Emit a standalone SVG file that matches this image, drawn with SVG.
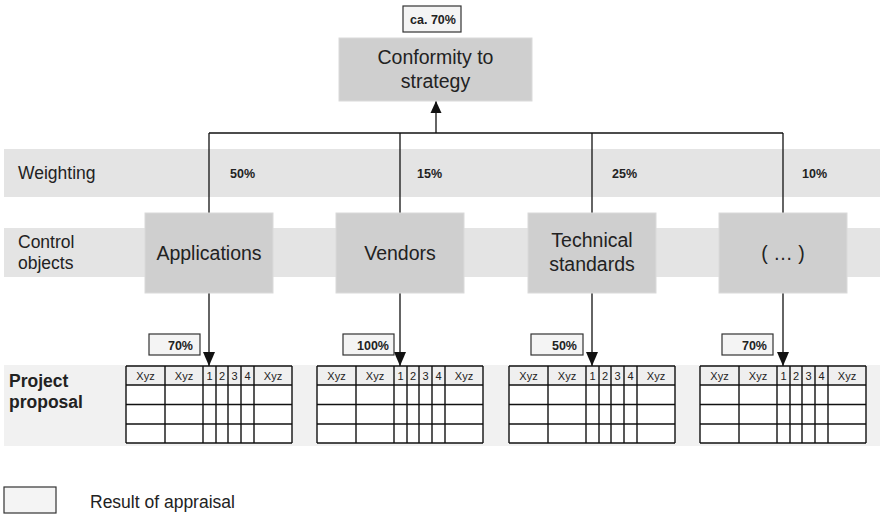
<svg xmlns="http://www.w3.org/2000/svg" width="880" height="516" viewBox="0 0 880 516">
<style>
text{font-family:"Liberation Sans",Arial,sans-serif;fill:#222}
.band{fill:#e4e4e4}
.pband{fill:#f1f1f1}
.node{fill:#cfcfcf;stroke:#dadada;stroke-width:1}
.nt{font-size:19.5px;text-anchor:middle}
.lbl{font-size:17.5px}
.pct{font-size:12.5px;font-weight:bold}
.rbox{fill:#f4f4f4;stroke:#333;stroke-width:1.2}
.conn{stroke:#111;stroke-width:1.3;fill:none}
.tb line{stroke:#111;stroke-width:1.4}
.hd{fill:#efefef}
.cell{fill:#fff}
.th{font-size:11px;text-anchor:middle}
</style>
<defs>
<marker id="ah" markerWidth="14" markerHeight="12" viewBox="0 0 14 12" refX="14" refY="6" orient="auto" markerUnits="userSpaceOnUse">
<path d="M0,0 L14,6 L0,12 Z" fill="#111"/>
</marker>
<marker id="ah2" markerWidth="12" markerHeight="12" viewBox="0 0 12 12" refX="12" refY="6" orient="auto" markerUnits="userSpaceOnUse">
<path d="M0,0.5 L12,6 L0,11.5 Z" fill="#111"/>
</marker>
<g id="table">
<rect class="cell" x="0" y="0" width="166" height="77"/>
<rect class="hd" x="0" y="0" width="166" height="19"/>
<g class="tb">
<line x1="0" y1="0" x2="166" y2="0"/>
<line x1="0" y1="19" x2="166" y2="19"/>
<line x1="0" y1="38.5" x2="166" y2="38.5"/>
<line x1="0" y1="58" x2="166" y2="58"/>
<line x1="0" y1="77" x2="166" y2="77"/>
<line x1="0" y1="0" x2="0" y2="77"/>
<line x1="39" y1="0" x2="39" y2="77"/>
<line x1="77" y1="0" x2="77" y2="77"/>
<line x1="90" y1="0" x2="90" y2="77"/>
<line x1="102" y1="0" x2="102" y2="77"/>
<line x1="115" y1="0" x2="115" y2="77"/>
<line x1="128" y1="0" x2="128" y2="77"/>
<line x1="166" y1="0" x2="166" y2="77"/>
</g>
<text class="th" x="19.5" y="14">Xyz</text>
<text class="th" x="58" y="14">Xyz</text>
<text class="th" x="83.5" y="14">1</text>
<text class="th" x="96" y="14">2</text>
<text class="th" x="108.5" y="14">3</text>
<text class="th" x="121.5" y="14">4</text>
<text class="th" x="147" y="14">Xyz</text>
</g>
</defs>

<g id="bands">
<rect class="band" x="4" y="149" width="876" height="48"/>
<rect class="band" x="4" y="228" width="876" height="49"/>
<rect class="pband" x="4" y="365" width="876" height="81"/>
<text class="lbl" x="18" y="179">Weighting</text>
<text class="lbl" x="18" y="248">Control</text>
<text class="lbl" x="18" y="269">objects</text>
<text class="lbl" x="9" y="387" style="font-weight:bold">Project</text>
<text class="lbl" x="9" y="408" style="font-weight:bold">proposal</text>
<text class="pct" x="230" y="178">50%</text>
<text class="pct" x="417" y="178">15%</text>
<text class="pct" x="612" y="178">25%</text>
<text class="pct" x="802" y="178">10%</text>
</g>

<g id="connectors">
<line class="conn" x1="209" y1="133" x2="783" y2="133"/>
<line class="conn" x1="436" y1="133" x2="436" y2="101" marker-end="url(#ah2)"/>
<line class="conn" x1="209" y1="133" x2="209" y2="213"/>
<line class="conn" x1="400" y1="133" x2="400" y2="213"/>
<line class="conn" x1="592" y1="133" x2="592" y2="213"/>
<line class="conn" x1="783" y1="133" x2="783" y2="213"/>
<line class="conn" x1="209" y1="293" x2="209" y2="366" marker-end="url(#ah)"/>
<line class="conn" x1="400" y1="293" x2="400" y2="366" marker-end="url(#ah)"/>
<line class="conn" x1="592" y1="293" x2="592" y2="366" marker-end="url(#ah)"/>
<line class="conn" x1="783" y1="293" x2="783" y2="366" marker-end="url(#ah)"/>
</g>

<g id="result-top">
<rect class="rbox" x="403" y="6" width="58" height="26"/>
<text class="pct" x="433" y="24" text-anchor="middle">ca. 70%</text>
</g>
<g id="conformity">
<rect class="node" x="339" y="38" width="193" height="63"/>
<text class="nt" x="435.5" y="64">Conformity to</text>
<text class="nt" x="435.5" y="88">strategy</text>
</g>

<g id="applications">
<rect class="node" x="145" y="213" width="128" height="80"/>
<text class="nt" x="209" y="260">Applications</text>
</g>
<g id="vendors">
<rect class="node" x="336" y="213" width="128" height="80"/>
<text class="nt" x="400" y="260">Vendors</text>
</g>
<g id="technical">
<rect class="node" x="528" y="213" width="128" height="80"/>
<text class="nt" x="592" y="247">Technical</text>
<text class="nt" x="592" y="271">standards</text>
</g>
<g id="more">
<rect class="node" x="719" y="213" width="128" height="80"/>
<text class="nt" x="783" y="260">( … )</text>
</g>

<g id="res1">
<rect class="rbox" x="149" y="334" width="51" height="21"/>
<text class="pct" x="193" y="350" text-anchor="end">70%</text>
</g>
<g id="res2">
<rect class="rbox" x="343" y="334" width="51" height="21"/>
<text class="pct" x="389" y="350" text-anchor="end">100%</text>
</g>
<g id="res3">
<rect class="rbox" x="531" y="334" width="52" height="21"/>
<text class="pct" x="577" y="350" text-anchor="end">50%</text>
</g>
<g id="res4">
<rect class="rbox" x="722" y="334" width="51" height="21"/>
<text class="pct" x="767" y="350" text-anchor="end">70%</text>
</g>

<g id="table1"><use href="#table" x="126" y="366"/></g>
<g id="table2"><use href="#table" x="317" y="366"/></g>
<g id="table3"><use href="#table" x="509" y="366"/></g>
<g id="table4"><use href="#table" x="700" y="366"/></g>

<g id="legend">
<rect class="rbox" x="4" y="487" width="52" height="26"/>
<text class="lbl" x="90" y="508">Result of appraisal</text>
</g>
</svg>
